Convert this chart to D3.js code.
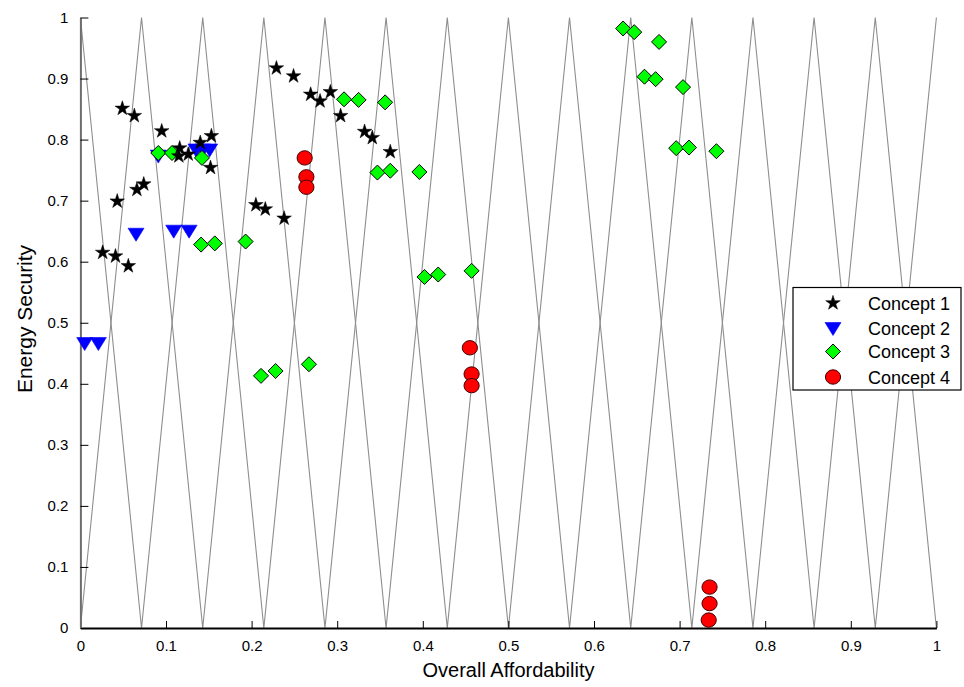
<!DOCTYPE html>
<html>
<head>
<meta charset="utf-8">
<script src="https://cdn.jsdelivr.net/npm/d3@7"></script>
<style>
  html, body { margin: 0; padding: 0; background: #fff; }
  svg { display: block; font-family: "Liberation Sans", Arial, sans-serif; }
</style>
</head>
<body>
<svg id="chart" width="964" height="687"></svg>
<script>
// ---- data ----
const seriesNames = ["Concept 1", "Concept 2", "Concept 3", "Concept 4"];

const c1x = [0.026,0.041,0.056,0.043,0.066,0.074,0.049,0.063,0.095,0.116,0.115,0.126,0.140,0.153,0.152,0.205,0.216,0.238,0.229,0.249,0.269,0.280,0.292,0.304,0.332,0.341,0.362];
const c1y = [0.615,0.609,0.593,0.699,0.718,0.727,0.851,0.839,0.814,0.786,0.773,0.776,0.795,0.806,0.754,0.693,0.686,0.671,0.917,0.904,0.874,0.863,0.878,0.839,0.813,0.803,0.780];

const c2x = [0.005,0.021,0.065,0.109,0.127,0.091,0.135,0.143,0.151];
const c2y = [0.466,0.466,0.645,0.650,0.650,0.773,0.783,0.783,0.783];

const c3x = [0.091,0.107,0.142,0.141,0.157,0.193,0.211,0.228,0.267,0.308,0.325,0.356,0.347,0.362,0.396,0.402,0.418,0.457,0.634,0.647,0.676,0.659,0.672,0.704,0.696,0.711,0.743];
const c3y = [0.778,0.778,0.770,0.628,0.630,0.633,0.413,0.421,0.432,0.866,0.865,0.861,0.746,0.749,0.747,0.575,0.579,0.585,0.982,0.976,0.960,0.903,0.899,0.886,0.786,0.787,0.781];

const c4x = [0.262,0.264,0.264,0.455,0.457,0.457,0.735,0.735,0.734];
const c4y = [0.770,0.739,0.722,0.459,0.416,0.397,0.067,0.040,0.013];

// background zigzag guide lines (vertices)
const waveX  = [0,0.0714,0.1429,0.2143,0.2857,0.3571,0.4286,0.5,0.5714,0.6429,0.7143,0.7857,0.8571,0.9286,1];
const waveAY = [1,0,1,0,1,0,1,0,1,0,1,0,1,0,1];
const waveBY = [0,1,0,1,0,1,0,1,0,1,0,1,0,1,0];

const xTicks = [0,0.1,0.2,0.3,0.4,0.5,0.6,0.7,0.8,0.9,1];
const xTickLabels = ["0","0.1","0.2","0.3","0.4","0.5","0.6","0.7","0.8","0.9","1"];
const yTicks = [0,0.1,0.2,0.3,0.4,0.5,0.6,0.7,0.8,0.9,1];
const yTickLabels = ["0","0.1","0.2","0.3","0.4","0.5","0.6","0.7","0.8","0.9","1"];

const xTitle = "Overall Affordability";
const yTitle = "Energy Security";

// ---- layout ----
const L = 80.4, R = 936.4, T = 17.5, B = 628;
const svg = d3.select("#chart");
const x = d3.scaleLinear().domain([0, 1]).range([L, R]);
const y = d3.scaleLinear().domain([0, 1]).range([B, T]);

svg.append("defs").append("clipPath").attr("id", "plotclip")
  .append("rect").attr("x", L).attr("y", T - 1).attr("width", R - L + 1).attr("height", B - T + 1);

// zigzag lines
const line = d3.line().x(d => x(d[0])).y(d => y(d[1]));
const gW = svg.append("g").attr("clip-path", "url(#plotclip)");
[waveAY, waveBY].forEach(ys => {
  gW.append("path")
    .attr("d", line(waveX.map((v, i) => [v, ys[i]])))
    .attr("fill", "none")
    .attr("stroke", "#8e8e8e")
    .attr("stroke-width", 1.1);
});

// axes
const xAxis = d3.axisBottom(x).tickValues(xTicks).tickFormat((d, i) => xTickLabels[i]).tickSizeInner(-7).tickSizeOuter(0).tickPadding(12);
const gx = svg.append("g").attr("transform", `translate(0,${B})`).call(xAxis);
gx.select(".domain").attr("stroke", "#000").attr("stroke-width", 2.2);
gx.selectAll(".tick line").attr("stroke", "#000").attr("stroke-width", 1);
gx.selectAll(".tick text").attr("font-size", 15).attr("fill", "#000").attr("font-family", "Liberation Sans, Arial, sans-serif");

const yAxis = d3.axisLeft(y).tickValues(yTicks).tickFormat((d, i) => yTickLabels[i]).tickSizeInner(-8).tickSizeOuter(0).tickPadding(12);
const gy = svg.append("g").attr("transform", `translate(${L},0)`).call(yAxis);
gy.select(".domain").attr("stroke", "#6e6e6e").attr("stroke-width", 2);
gy.selectAll(".tick line").attr("stroke", "#000").attr("stroke-width", 1);
gy.selectAll(".tick text").attr("font-size", 15).attr("fill", "#000").attr("font-family", "Liberation Sans, Arial, sans-serif");

// titles
svg.append("text").attr("x", 508.5).attr("y", 677).attr("text-anchor", "middle")
  .attr("font-size", 20).attr("fill", "#000").text(xTitle);
svg.append("text").attr("transform", "translate(32,319) rotate(-90)").attr("text-anchor", "middle")
  .attr("font-size", 21).attr("fill", "#000").text(yTitle);

// marker shapes
const starPath = d3.symbol().type(d3.symbolStar).size(66)();
const triPath = "M-8,-6L8,-6L0,7Z";
const diaPath = "M0,-7.5L7.5,0L0,7.5L-7.5,0Z";

function drawStar(g, cx, cy) {
  g.append("path").attr("d", starPath).attr("transform", `translate(${cx},${cy})`)
    .attr("fill", "#000").attr("stroke", "#000").attr("stroke-width", 0.5);
}
function drawTri(g, cx, cy) {
  g.append("path").attr("d", triPath).attr("transform", `translate(${cx},${cy})`)
    .attr("fill", "#0000ff").attr("stroke", "#0000ff").attr("stroke-width", 0.6);
}
function drawDia(g, cx, cy) {
  g.append("path").attr("d", diaPath).attr("transform", `translate(${cx},${cy})`)
    .attr("fill", "#00ff00").attr("stroke", "#000").attr("stroke-width", 1);
}
function drawCirc(g, cx, cy) {
  g.append("ellipse").attr("cx", cx).attr("cy", cy).attr("rx", 7.6).attr("ry", 7.2)
    .attr("fill", "#ff0000").attr("stroke", "#400000").attr("stroke-width", 1);
}

const gm = svg.append("g");
c2x.forEach((v, i) => drawTri(gm, x(v), y(c2y[i])));
c3x.forEach((v, i) => drawDia(gm, x(v), y(c3y[i])));
c1x.forEach((v, i) => drawStar(gm, x(v), y(c1y[i])));
c4x.forEach((v, i) => drawCirc(gm, x(v), y(c4y[i])));

// legend
const lg = svg.append("g");
lg.append("rect").attr("x", 793).attr("y", 287.5).attr("width", 168).attr("height", 102.5)
  .attr("fill", "#fff").attr("stroke", "#000").attr("stroke-width", 1.2);
const rowsY = [303, 328.5, 351.5, 377];
const drawers = [drawStar, drawTri, drawDia, drawCirc];
seriesNames.forEach((name, i) => {
  drawers[i](lg, 833, rowsY[i]);
  lg.append("text").attr("x", 868).attr("y", rowsY[i] + 6.5)
    .attr("font-size", 18).attr("fill", "#000").text(name);
});
</script>
</body>
</html>
